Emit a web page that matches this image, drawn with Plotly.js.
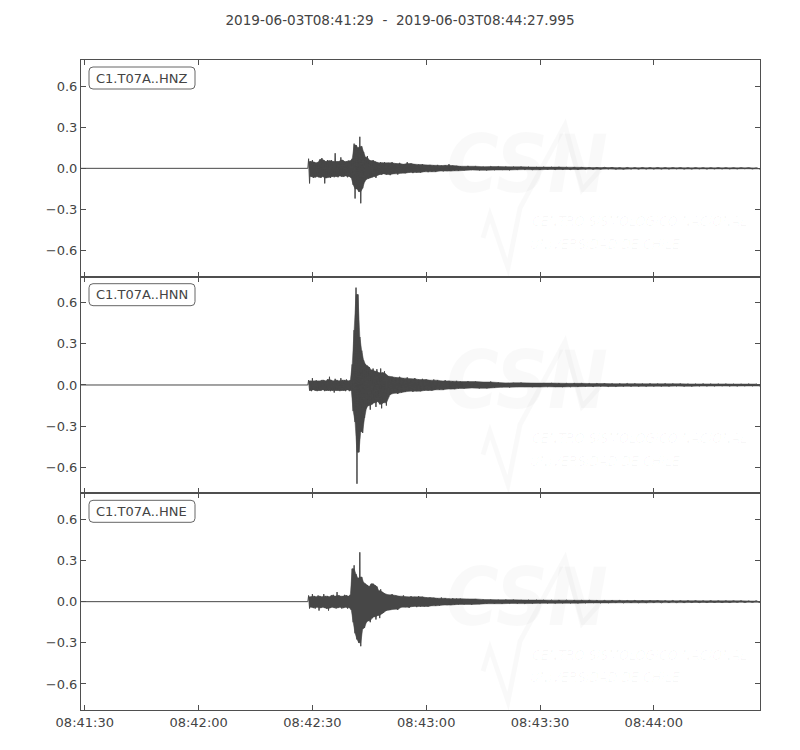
<!DOCTYPE html>
<html>
<head>
<meta charset="utf-8">
<script src="https://cdn.plot.ly/plotly-3.0.1.min.js"></script>
<style>html,body{margin:0;padding:0;background:#fff}</style>
</head>
<body>
<div id="chart" style="width:800px;height:750px"></div>
<script>
// record window and channel names
const startTime = '2019-06-03 08:41:29';
const endTime = '2019-06-03 08:44:27.995';
const channels = ['C1.T07A..HNZ', 'C1.T07A..HNN', 'C1.T07A..HNE'];
const yTicks = [-0.6, -0.3, 0, 0.3, 0.6];
const xTicks = ['2019-06-03 08:41:30', '2019-06-03 08:42:00', '2019-06-03 08:42:30',
                '2019-06-03 08:43:00', '2019-06-03 08:43:30', '2019-06-03 08:44:00'];

// quiet part before the P arrival (seconds after start)
const quietSec = [0, 59.8];
const quietVals = [0, 0];

// swings: burst every 0.25 s from 60 s,
// then every 0.5 s from 80 s, then every 1 s from 100 s
const burstStart = 60, burstStep = 0.25;
const midStart = 80, midStep = 0.5;
const lateStart = 100, lateStep = 1;

const hnzBurst = [
  0.07,-0.11,0.05,-0.06,  0.06,-0.07,0.045,-0.065,  0.04,-0.06,0.045,-0.065,  0.065,-0.07,0.075,-0.06,
  0.06,-0.11,0.05,-0.07,  0.06,-0.065,0.055,-0.07,  0.06,-0.06,0.05,-0.065,  0.11,-0.06,0.05,-0.065,
  0.05,-0.055,0.08,-0.06,  0.06,-0.06,0.05,-0.055,  0.05,-0.065,0.055,-0.06,  0.055,-0.07,0.07,-0.12,
  0.18,-0.22,0.17,-0.15,  0.15,-0.17,0.23,-0.255,  0.16,-0.145,0.12,-0.10,  0.08,-0.08,0.09,-0.075,
  0.06,-0.07,0.055,-0.065,  0.06,-0.06,0.05,-0.07,  0.045,-0.05,0.04,-0.045,  0.045,-0.045,0.04,-0.04
];
const hnzMid = [
  0.045,-0.045, 0.04,-0.05, 0.045,-0.04, 0.035,-0.045, 0.04,-0.035,
  0.03,-0.035, 0.045,-0.03, 0.035,-0.035, 0.03,-0.03, 0.028,-0.03,
  0.03,-0.025, 0.025,-0.028, 0.025,-0.025, 0.022,-0.025, 0.025,-0.02,
  0.02,-0.022, 0.022,-0.02, 0.03,-0.02, 0.02,-0.018, 0.018,-0.018
];
const hnzLate = [
  0.015,-0.015,0.018,-0.012,0.015,-0.014,0.012,-0.015,0.014,-0.012,0.013,-0.012,0.012,-0.013,0.011,
  -0.01,0.011,-0.009,0.01,-0.01,0.009,-0.01,0.01,-0.008,0.009,-0.009,0.01,-0.008,0.008,-0.009,0.008,-0.008,
  0.007,-0.006,0.006,-0.007,0.006,-0.006,0.007,-0.005,0.006,-0.006,
  0.005,-0.006,0.006,-0.005,0.005,-0.006,0.006,-0.005,0.005,-0.005,
  0.006,-0.005,0.005,-0.005,0.005,-0.004,0.005,-0.005,0.004,-0.005,
  0.005,-0.004,0.004,-0.005,0.004,-0.004,0.005,-0.004,0.004,-0.004,
  0.004,-0.004,0.004,-0.003,0.004,-0.004,0.003,-0.004
];

const hnnBurst = [
  0.035,-0.04,0.03,-0.045,  0.05,-0.035,0.03,-0.04,  0.035,-0.045,0.03,-0.04,  0.03,-0.04,0.035,-0.035,
  0.035,-0.045,0.03,-0.04,  0.04,-0.04,0.06,-0.045,  0.035,-0.04,0.03,-0.055,  0.045,-0.04,0.035,-0.04,
  0.03,-0.045,0.05,-0.04,  0.035,-0.04,0.035,-0.045,  0.04,-0.035,0.03,-0.045,  0.035,-0.04,0.15,-0.19,
  0.40,-0.27,0.71,-0.72,  0.66,-0.49,0.35,-0.34,  0.25,-0.35,0.18,-0.24,  0.15,-0.17,0.14,-0.15,
  0.13,-0.18,0.11,-0.14,  0.12,-0.13,0.10,-0.16,  0.115,-0.12,0.09,-0.14,  0.12,-0.17,0.09,-0.13
];
const hnnMid = [
  0.10,-0.15, 0.065,-0.07, 0.06,-0.06, 0.055,-0.065, 0.06,-0.055,
  0.05,-0.05, 0.055,-0.045, 0.045,-0.05, 0.05,-0.045, 0.04,-0.045,
  0.045,-0.04, 0.04,-0.04, 0.035,-0.04, 0.04,-0.035, 0.035,-0.035,
  0.03,-0.035, 0.035,-0.03, 0.03,-0.03, 0.028,-0.03, 0.03,-0.025
];
const hnnLate = [
  0.025,-0.025,0.028,-0.022,0.025,-0.025,0.022,-0.024,0.025,-0.02,
  0.018,-0.016,0.015,-0.018,0.016,-0.015,0.017,-0.015,0.015,-0.016,
  0.014,-0.015,0.015,-0.013,0.014,-0.014,0.013,-0.014,0.012,-0.013,0.013,-0.012,
  0.012,-0.011,0.011,-0.012,0.011,-0.01,0.011,-0.011,0.01,-0.011,
  0.01,-0.01,0.011,-0.01,0.01,-0.01,0.009,-0.01,0.01,-0.009,
  0.009,-0.009,0.01,-0.009,0.009,-0.008,0.009,-0.009,0.008,-0.009,
  0.008,-0.008,0.009,-0.008,0.008,-0.008,0.008,-0.007,0.008,-0.008,
  0.007,-0.008,0.007,-0.007,0.008,-0.007,0.007,-0.007
];

const hneBurst = [
  0.045,-0.05,0.035,-0.04,  0.055,-0.045,0.04,-0.05,  0.035,-0.04,0.045,-0.065,  0.04,-0.045,0.035,-0.04,
  0.055,-0.045,0.04,-0.05,  0.04,-0.065,0.035,-0.045,  0.045,-0.04,0.05,-0.045,  0.04,-0.05,0.07,-0.045,
  0.045,-0.04,0.04,-0.05,  0.04,-0.045,0.05,-0.04,  0.045,-0.05,0.04,-0.045,  0.05,-0.06,0.24,-0.15,
  0.265,-0.23,0.20,-0.275,  0.17,-0.30,0.36,-0.325,  0.18,-0.20,0.14,-0.19,  0.13,-0.15,0.12,-0.14,
  0.11,-0.15,0.13,-0.12,  0.13,-0.11,0.12,-0.13,  0.11,-0.10,0.08,-0.12,  0.09,-0.09,0.07,-0.08
];
const hneMid = [
  0.06,-0.065, 0.05,-0.06, 0.055,-0.055, 0.045,-0.06, 0.04,-0.04,
  0.045,-0.04, 0.035,-0.045, 0.04,-0.035, 0.035,-0.04, 0.04,-0.035,
  0.035,-0.035, 0.03,-0.035, 0.03,-0.03, 0.028,-0.03, 0.025,-0.028,
  0.03,-0.025, 0.025,-0.025, 0.022,-0.025, 0.025,-0.022, 0.022,-0.02
];
const hneLate = [
  0.022,-0.02,0.02,-0.022,0.02,-0.018,
  0.016,-0.015,0.015,-0.016,0.014,-0.015,0.015,-0.013,0.014,-0.014,
  0.013,-0.014,0.012,-0.013,0.013,-0.012,0.012,-0.012,0.011,-0.012,
  0.012,-0.011,0.011,-0.011,0.01,-0.011,
  0.01,-0.01,0.01,-0.009,0.009,-0.01,0.009,-0.009,0.009,-0.008,
  0.009,-0.009,0.008,-0.008,0.009,-0.008,0.008,-0.008,0.008,-0.007,
  0.008,-0.008,0.007,-0.007,0.008,-0.007,0.007,-0.007,0.007,-0.006,
  0.007,-0.007,0.006,-0.006,0.007,-0.006,0.006,-0.006,0.006,-0.006,
  0.006,-0.005,0.006,-0.006,0.005,-0.005,0.006,-0.005
];

const pieces = [
  [[hnzBurst, burstStart, burstStep], [hnzMid, midStart, midStep], [hnzLate, lateStart, lateStep]],
  [[hnnBurst, burstStart, burstStep], [hnnMid, midStart, midStep], [hnnLate, lateStart, lateStep]],
  [[hneBurst, burstStart, burstStep], [hneMid, midStart, midStep], [hneLate, lateStart, lateStep]]
];

function stamp(sec) {
  const d = new Date(Date.UTC(2019, 5, 3, 8, 41, 29) + Math.round(sec * 1000));
  return d.toISOString().replace('T', ' ').replace('Z', '');
}

// body of the band without the lone spikes (those stay in the wiggle line)
function body(pts) {
  return pts.map((p, i) => {
    const a = i > 0 ? Math.abs(pts[i - 1][1]) : 0;
    const b = i < pts.length - 1 ? Math.abs(pts[i + 1][1]) : 0;
    const m = Math.min(Math.abs(p[1]), Math.max(a, b));
    return [p[0], Math.sign(p[1]) * m];
  });
}

const ink = '#474747';
const frame = '#4f4f4f';
const textCol = '#444444';
const font = 'DejaVu Sans, sans-serif';

const traces = [];
channels.forEach((name, k) => {
  const xa = k === 0 ? 'x' : 'x' + (k + 1);
  const ya = k === 0 ? 'y' : 'y' + (k + 1);
  const sec = [], val = [];
  pieces[k].forEach(([arr, s0, step]) => {
    arr.forEach((v, i) => { sec.push(s0 + i * step); val.push(v); });
  });

  const up = [], dn = [];
  sec.forEach((s, i) => { (val[i] >= 0 ? up : dn).push([s, val[i]]); });
  const ring = body(up).concat(body(dn).reverse());
  traces.push({
    type: 'scatter', mode: 'lines', fill: 'toself',
    x: ring.map(p => stamp(p[0])), y: ring.map(p => p[1]),
    xaxis: xa, yaxis: ya,
    line: {color: ink, width: 0.5, simplify: false},
    fillcolor: ink, hoverinfo: 'skip', showlegend: false
  });

  traces.push({
    type: 'scatter', mode: 'lines', name: name,
    x: quietSec.concat(sec).map(stamp), y: quietVals.concat(val),
    xaxis: xa, yaxis: ya,
    line: {color: ink, width: 1, simplify: false},
    hoverinfo: 'x+y', showlegend: false
  });
});

// pixel helpers for the plot box (81..760 x 60..710)
const L = 81, T = 60, W = 679, H = 650;
const px = x => (x - L) / W;
const py = y => 1 - (y - T) / H;
const pt = (x, y) => px(x) + ',' + py(y);
function roundBox(x0, y0, x1, y1, r) {
  return 'M' + pt(x0 + r, y0) + ' L' + pt(x1 - r, y0) + ' Q' + pt(x1, y0) + ' ' + pt(x1, y0 + r) +
    ' L' + pt(x1, y1 - r) + ' Q' + pt(x1, y1) + ' ' + pt(x1 - r, y1) +
    ' L' + pt(x0 + r, y1) + ' Q' + pt(x0, y1) + ' ' + pt(x0, y1 - r) +
    ' L' + pt(x0, y0 + r) + ' Q' + pt(x0, y0) + ' ' + pt(x0 + r, y0) + ' Z';
}

const panelTop = [60, 276.7, 493.3];
const shapes = [];
const annotations = [];
const faint = 'rgba(0,0,0,0.022)';
const faintText = 'rgba(0,0,0,0.03)';
const markFont = 'DejaVu Sans Condensed, Liberation Sans Narrow, sans-serif';

panelTop.forEach((top, k) => {
  // faint CSN watermark
  const w = [[483,178],[490,155],[508,208],[520,148],[565,65],[582,130],[600,110]];
  shapes.push({
    type: 'path', xref: 'paper', yref: 'paper', layer: 'below',
    path: 'M' + w.map(p => pt(p[0], top + p[1])).join(' L'),
    line: {color: faint, width: 5}
  });
  annotations.push({
    xref: 'paper', yref: 'paper', x: px(527), y: py(top + 104),
    xanchor: 'center', yanchor: 'middle', showarrow: false,
    text: '<b><i>CSN</i></b>',
    font: {family: markFont, size: 80, color: faint}
  });
  annotations.push({
    xref: 'paper', yref: 'paper', x: px(530), y: py(top + 161),
    xanchor: 'left', yanchor: 'middle', showarrow: false,
    text: '<i>CENTRO SISMOLÓGICO NACIONAL</i>',
    font: {family: markFont, size: 14, color: faintText}
  });
  annotations.push({
    xref: 'paper', yref: 'paper', x: px(528), y: py(top + 184),
    xanchor: 'left', yanchor: 'middle', showarrow: false,
    text: '<i>UNIVERSIDAD DE CHILE</i>',
    font: {family: markFont, size: 14, color: faintText}
  });

  // channel label box
  shapes.push({
    type: 'path', xref: 'paper', yref: 'paper',
    path: roundBox(89, top + 7, 195, top + 29, 4),
    fillcolor: '#ffffff', line: {color: '#666666', width: 1}
  });
  annotations.push({
    xref: 'paper', yref: 'paper', x: px(93.5), y: py(top + 18),
    xanchor: 'left', yanchor: 'middle', showarrow: false,
    text: channels[k], font: {family: font, size: 13, color: textCol}
  });
});

function xAxis(k) {
  return {
    type: 'date', range: [startTime, endTime],
    anchor: k === 0 ? 'y' : 'y' + (k + 1),
    matches: k === 0 ? undefined : 'x',
    tickvals: xTicks, tickformat: '%H:%M:%S',
    showticklabels: k === 2,
    ticks: 'inside', ticklen: 5, tickcolor: frame, tickwidth: 1,
    showline: true, mirror: 'ticks', linecolor: frame, linewidth: 1,
    showgrid: false, zeroline: false,
    tickfont: {family: font, size: 13, color: textCol}
  };
}
function yAxis(k) {
  const dom = [[2/3, 1], [1/3, 2/3], [0, 1/3]][k];
  return {
    domain: dom, range: [-0.79, 0.79],
    anchor: k === 0 ? 'x' : 'x' + (k + 1),
    tickvals: yTicks, tickformat: '.1f',
    ticks: 'inside', ticklen: 5, tickcolor: frame, tickwidth: 1,
    showline: true, mirror: 'ticks', linecolor: frame, linewidth: 1,
    showgrid: false, zeroline: false,
    tickfont: {family: font, size: 13, color: textCol}
  };
}

const layout = {
  width: 800, height: 750,
  margin: {l: 81, r: 40, t: 60, b: 40},
  paper_bgcolor: '#ffffff', plot_bgcolor: 'rgba(0,0,0,0)',
  title: {
    text: '2019-06-03T08:41:29\u00a0\u00a0-\u00a0\u00a02019-06-03T08:44:27.995',
    xref: 'container', x: 0.5, xanchor: 'center',
    yref: 'container', y: 1 - 20 / 750, yanchor: 'middle',
    font: {family: font, size: 13.6, color: textCol}
  },
  xaxis: xAxis(0), xaxis2: xAxis(1), xaxis3: xAxis(2),
  yaxis: yAxis(0), yaxis2: yAxis(1), yaxis3: yAxis(2),
  shapes: shapes, annotations: annotations,
  showlegend: false
};

Plotly.newPlot('chart', traces, layout, {displayModeBar: false, staticPlot: true});
</script>
</body>
</html>
